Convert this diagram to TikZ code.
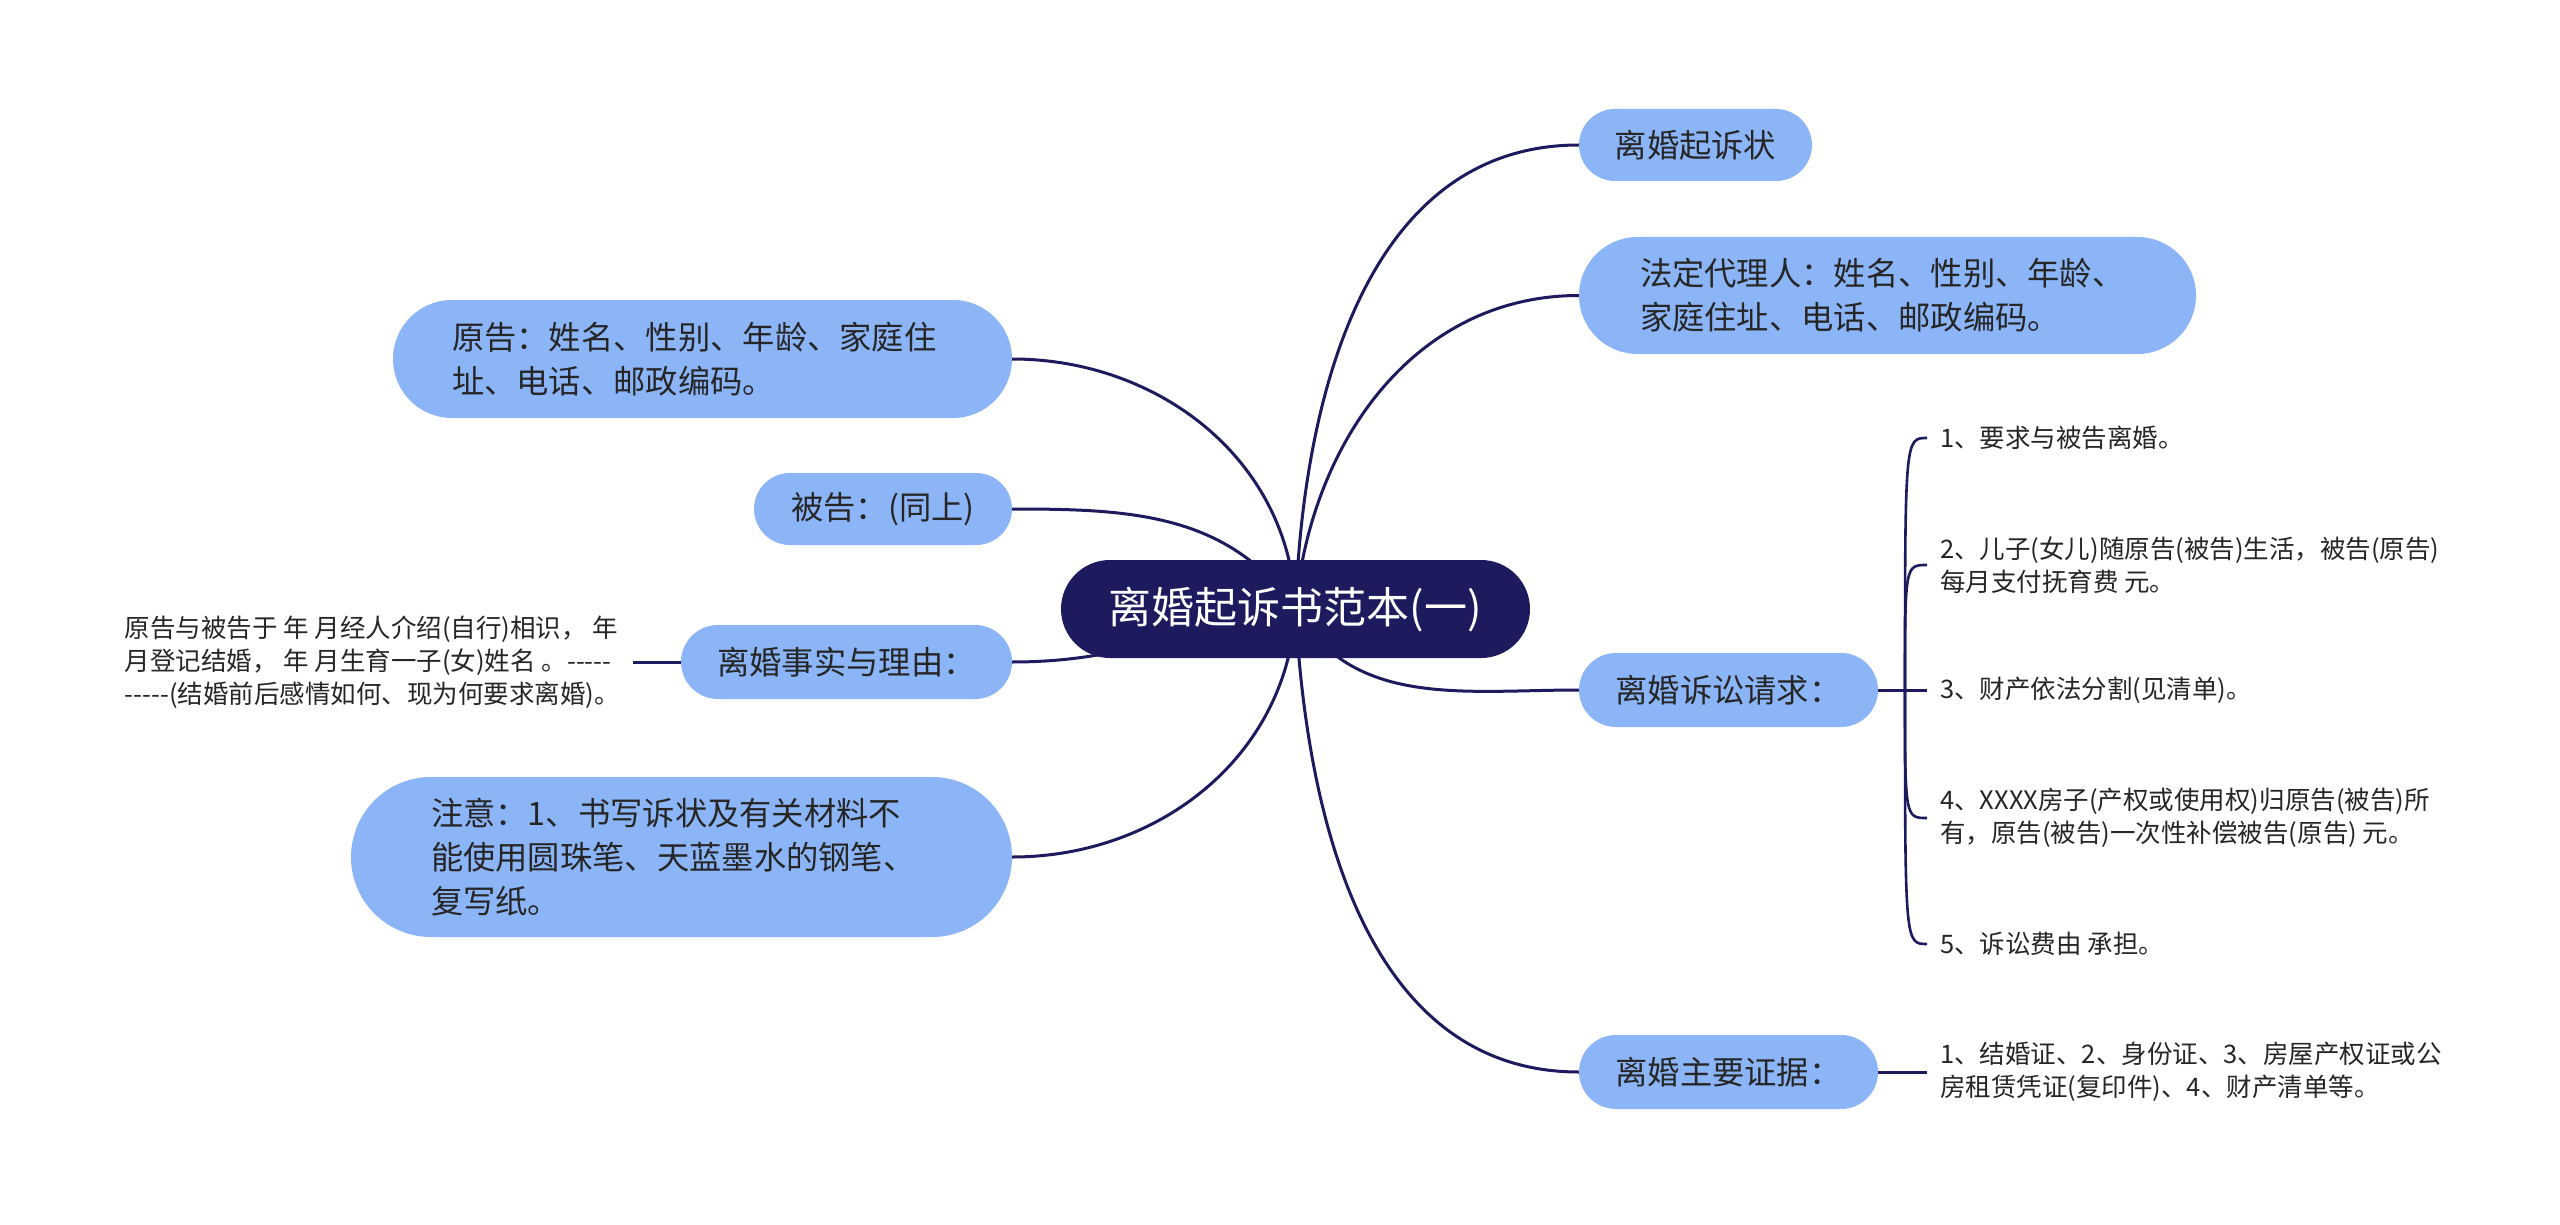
\documentclass[tikz,border=0pt]{standalone}
\usepackage{fontspec}
\setmainfont{Noto Sans CJK SC}
\usetikzlibrary{backgrounds,calc}
\definecolor{navy}{HTML}{1D1B5E}
\definecolor{nodeblue}{HTML}{8CB5F8}
\definecolor{txt}{HTML}{262626}
\begin{document}
\begin{tikzpicture}[x=1pt,y=-1pt,
 mainnode/.style={fill=navy, text=white, rounded corners=49pt, minimum width=469pt, minimum height=98pt, inner sep=0pt, font=\fontsize{43}{50}\selectfont},
 topic/.style 2 args={fill=nodeblue, text=txt, inner sep=0pt, minimum width=#1, minimum height=#2, rounded corners=#2/2, font=\fontsize{32.3}{44}\selectfont},
 topicml/.style n args={3}{fill=nodeblue, text=txt, inner xsep=#2, inner ysep=0pt, text width=#1, minimum height=#3, rounded corners=#3/2, align=left, font=\fontsize{32.3}{44}\selectfont},
 leaf/.style={text=txt, inner ysep=0pt, inner xsep=13pt, align=left, font=\fontsize{25.5}{33}\selectfont},
 link/.style={draw=navy, line width=3pt},
 blink/.style={draw=navy, line width=2.6pt}
]
\useasboundingbox (0,0) rectangle (2560,1225);

\node[mainnode] (c) at (1295.5,609) {离婚起诉书范本(一)};

\node[topic={233pt}{72pt}] (n1) at (1695.5,145) {离婚起诉状};
\node[topicml={495pt}{61pt}{117pt}] (n2) at (1887.5,295.5) {法定代理人：姓名、性别、年龄、\\家庭住址、电话、邮政编码。};
\node[topic={299pt}{74pt}] (n3) at (1728.5,690) {离婚诉讼请求：};
\node[topic={299pt}{74pt}] (n4) at (1728.5,1072) {离婚主要证据：};

\node[topicml={501pt}{59pt}{118pt}] (m1) at (702.5,359) {原告：姓名、性别、年龄、家庭住\\址、电话、邮政编码。};
\node[topic={258pt}{72pt}] (m2) at (883,509) {被告：(同上)};
\node[topic={331pt}{74pt}] (m3) at (846.5,662) {离婚事实与理由：};
\node[topicml={501pt}{80pt}{160pt}] (m4) at (681.5,857) {注意：1、书写诉状及有关材料不\\能使用圆珠笔、天蓝墨水的钢笔、\\复写纸。};

\node[leaf, anchor=east] (lf) at (633,662) {原告与被告于 年 月经人介绍(自行)相识， 年\\月登记结婚， 年 月生育一子(女)姓名 。-{}-{}-{}-{}-\\-{}-{}-{}-{}-(结婚前后感情如何、现为何要求离婚)。};

\node[leaf, anchor=west] (r1) at (1927,438) {1、要求与被告离婚。};
\node[leaf, anchor=west] (r2) at (1927,565) {2、儿子(女儿)随原告(被告)生活，被告(原告)\\每月支付抚育费 元。};
\node[leaf, anchor=west] (r3) at (1927,690) {3、财产依法分割(见清单)。};
\node[leaf, anchor=west] (r4) at (1927,818) {4、XXXX房子(产权或使用权)归原告(被告)所\\有，原告(被告)一次性补偿被告(原告) 元。};
\node[leaf, anchor=west] (r5) at (1927,944) {5、诉讼费由 承担。};
\node[leaf, anchor=west] (e1) at (1927,1072) {1、结婚证、2、身份证、3、房屋产权证或公\\房租赁凭证(复印件)、4、财产清单等。};

\coordinate (j) at (1905,690);

\begin{scope}[on background layer]
\fill[white] (0,0) rectangle (2560,1225);
\draw[link] (c.center) to[out=88,in=180] (n1.west);
\draw[link] (c.center) to[out=85,in=180] (n2.west);
\draw[link] (c.center) to[out=-60,in=180] (n3.west);
\draw[link] (c.center) to[out=-87,in=180] (n4.west);
\draw[link] (c.center) to[out=92,in=0] (m1.east);
\draw[link] (c.center) to[out=125,in=0] (m2.east);
\draw[link] (c.center) to[out=190,in=0] (m3.east);
\draw[link] (c.center) to[out=-93,in=0] (m4.east);
\end{scope}

\draw[link] (m3.west) -- (lf.east);
\draw[link] (n3.east) -- (r3.west);
\draw[link] (n4.east) -- (e1.west);
\draw[blink] (j) .. controls (j |- r1.west) and (j |- r1.west) .. (r1.west);
\draw[blink] (j) .. controls (j |- r2.west) and (j |- r2.west) .. (r2.west);
\draw[blink] (j) .. controls (j |- r4.west) and (j |- r4.west) .. (r4.west);
\draw[blink] (j) .. controls (j |- r5.west) and (j |- r5.west) .. (r5.west);
\end{tikzpicture}
\end{document}
